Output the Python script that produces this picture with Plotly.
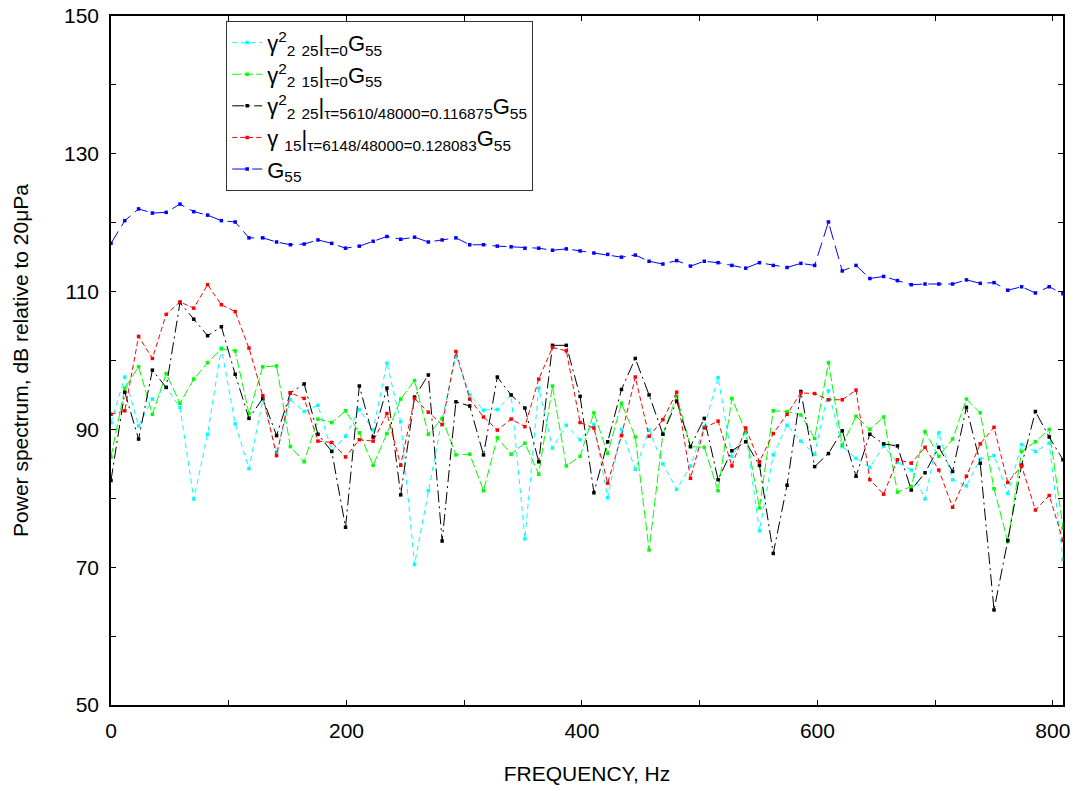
import plotly.graph_objects as go

# frequency bins: 48 kHz sampling, 4096-point FFT
BIN_HZ = 48000 / 4096
N_BINS = 70
freq = [k * BIN_HZ for k in range(N_BINS)]

# ---- values (dB re 20 uPa) ----
g25_tau0 = [91.0, 97.6, 90.5, 94.4, 96.1, 93.2, 79.9, 89.3, 101.8, 90.8,
            84.3, 94.3, 86.7, 94.3, 92.6, 93.5, 86.9, 89.0, 92.9, 89.9,
            99.6, 91.1, 70.4, 81.1, 91.5, 100.6, 95.0, 92.8, 92.9, 95.0,
            74.1, 96.0, 87.3, 90.6, 88.5, 90.7, 80.1, 90.0, 84.2, 89.9,
            85.0, 81.3, 84.7, 90.4, 97.5, 86.1, 89.5, 75.3, 86.3, 90.6,
            88.3, 86.4, 95.6, 87.5, 85.8, 84.5, 87.6, 85.2, 84.1, 79.9,
            89.5, 82.7, 81.8, 85.7, 86.2, 80.7, 87.8, 86.8, 88.0, 71.1]

g15_tau0 = [86.0, 96.0, 99.1, 92.2, 98.1, 93.8, 97.3, 99.7, 101.7, 101.4,
            92.3, 99.1, 99.2, 87.5, 85.3, 91.5, 91.0, 92.7, 89.5, 84.8,
            89.4, 94.4, 97.1, 89.3, 91.6, 86.3, 86.4, 81.1, 88.8, 86.4,
            88.0, 83.5, 96.3, 84.7, 86.1, 92.4, 86.5, 93.8, 88.9, 72.5,
            89.3, 94.8, 87.5, 87.4, 81.1, 94.5, 89.7, 78.6, 92.7, 92.6,
            92.1, 88.7, 99.7, 87.7, 91.9, 90.0, 91.8, 80.9, 81.7, 89.7,
            86.1, 88.6, 94.4, 92.4, 81.4, 73.7, 86.8, 88.2, 90.0, 75.7]

g25_tau5610 = [82.6, 95.4, 88.6, 98.6, 96.1, 108.4, 106.0, 103.6, 104.9, 98.0,
               91.6, 94.5, 89.1, 95.3, 96.6, 89.3, 86.8, 75.8, 96.3, 88.9,
               96.0, 80.5, 94.7, 97.9, 73.8, 94.0, 93.4, 86.3, 97.6, 95.0,
               93.1, 85.3, 102.2, 102.2, 94.8, 80.8, 88.2, 95.8, 100.3, 95.0,
               89.3, 94.1, 87.5, 91.6, 82.7, 86.9, 88.2, 84.8, 72.0, 81.9,
               95.5, 84.6, 86.5, 89.8, 83.2, 89.3, 87.9, 87.6, 81.2, 83.7,
               87.4, 83.9, 93.2, 85.1, 63.8, 73.9, 84.8, 92.6, 88.9, 85.6]

g15_tau6148 = [92.2, 92.7, 103.5, 100.3, 106.7, 108.5, 107.6, 111.0, 108.1, 107.1,
               101.8, 94.9, 86.2, 95.3, 94.5, 88.3, 88.1, 86.0, 88.5, 88.3,
               92.3, 84.8, 94.5, 92.5, 90.7, 101.3, 94.4, 91.8, 89.9, 91.5,
               90.4, 97.3, 101.9, 101.4, 91.0, 90.2, 82.2, 89.1, 97.6, 89.0,
               91.4, 95.4, 82.9, 90.2, 91.2, 84.7, 90.2, 85.3, 89.4, 92.2,
               95.3, 95.2, 94.3, 94.3, 95.7, 82.7, 80.6, 85.6, 85.1, 87.4,
               84.1, 78.7, 83.2, 87.9, 90.3, 82.3, 84.7, 78.3, 80.4, 73.9]

g55 = [117.0, 120.3, 122.0, 121.4, 121.5, 122.7, 121.6, 121.1, 120.3, 120.1,
       117.8, 117.8, 117.2, 116.8, 116.9, 117.5, 117.0, 116.3, 116.6, 117.3,
       118.0, 117.6, 117.9, 117.2, 117.5, 117.8, 116.8, 116.8, 116.6, 116.5,
       116.3, 116.3, 116.0, 116.2, 115.9, 115.6, 115.4, 115.0, 115.3, 114.4,
       114.0, 114.5, 113.7, 114.4, 114.2, 113.8, 113.4, 114.2, 113.8, 113.5,
       114.1, 113.8, 120.1, 113.0, 113.8, 111.9, 112.2, 111.6, 111.0, 111.1,
       111.1, 111.1, 111.7, 111.2, 111.3, 110.2, 110.7, 109.8, 110.7, 109.7]

x_ticks = [0, 100, 200, 300, 400, 500, 600, 700, 800]
x_labels = ["0", "", "200", "", "400", "", "600", "", "800"]
y_ticks = [50, 60, 70, 80, 90, 100, 110, 120, 130, 140, 150]
y_labels = ["50", "", "70", "", "90", "", "110", "", "130", "", "150"]

series = [
    ("γ<sup>2</sup><sub>2</sub> <sub>25</sub>|<sub>τ=0</sub>G<sub>55</sub>",
     g25_tau0, "#00FFFF", "5px,4px"),
    ("γ<sup>2</sup><sub>2</sub> <sub>15</sub>|<sub>τ=0</sub>G<sub>55</sub>",
     g15_tau0, "#00FF00", "9px,3px"),
    ("γ<sup>2</sup><sub>2</sub> <sub>25</sub>|<sub>τ=5610/48000=0.116875</sub>G<sub>55</sub>",
     g25_tau5610, "#000000", "12px,4px,2px,4px"),
    ("γ <sub>15</sub>|<sub>τ=6148/48000=0.128083</sub>G<sub>55</sub>",
     g15_tau6148, "#FF0000", "5px,3px"),
    ("G<sub>55</sub>", g55, "#0000FF", "14px,6px"),
]

fig = go.Figure()
for name, vals, col, dash in series:
    fig.add_trace(go.Scatter(
        x=freq, y=vals, name=name, mode="lines+markers",
        line=dict(color=col, width=1, dash=dash),
        marker=dict(color=col, size=3.5, symbol="square"),
    ))

axis_common = dict(
    showline=True, linecolor="black", linewidth=1.5, mirror="ticks",
    ticks="inside", ticklen=5, tickcolor="black", showgrid=False, zeroline=False,
    tickfont=dict(size=21, color="black"), automargin=False,
    ticklabeloverflow="allow",
)

fig.update_layout(
    width=1078, height=791,
    margin=dict(l=111, r=15, t=16, b=86),
    paper_bgcolor="white", plot_bgcolor="white",
    font=dict(family="Arial, Liberation Sans, sans-serif", color="black", size=21),
    xaxis=dict(range=[0, freq[-1]], tickvals=x_ticks, ticktext=x_labels,
               title=dict(text="FREQUENCY, Hz", font=dict(size=21), standoff=25),
               ticklabelstandoff=6, **axis_common),
    yaxis=dict(range=[50, 150], tickvals=y_ticks, ticktext=y_labels,
               title=dict(text="Power spectrum, dB relative to 20μPa", font=dict(size=21), standoff=30),
               ticklabelstandoff=6, **axis_common),
    legend=dict(x=0.121, y=0.993, xanchor="left", yanchor="top",
                bgcolor="white", bordercolor="#333333", borderwidth=1,
                font=dict(size=22), tracegroupgap=0),
    showlegend=True,
)

# drop the page's default body margin so the figure sits at the window corner
fig.write_html("out.html", config={"displayModeBar": False},
               post_script="document.body.style.margin='0';")
